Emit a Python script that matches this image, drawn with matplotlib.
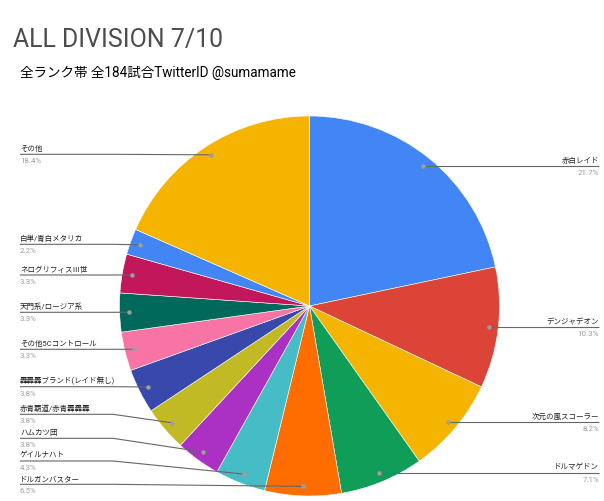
import matplotlib
matplotlib.use("Agg")
import matplotlib.pyplot as plt
import numpy as np

plt.rcParams['font.family'] = ['Roboto', 'Noto Sans CJK JP', 'DejaVu Sans']

title = "ALL DIVISION 7/10"
subtitle = "全ランク帯 全184試合TwitterID @sumamame"

categories = ["赤白レイド", "デンジャデオン", "次元の嵐スコーラー", "ドルマゲドン",
              "ドルガンバスター", "ゲイルナハト", "ハムカツ団", "赤青覇道/赤青轟轟轟",
              "轟轟轟ブランド(レイド無し)", "その他5Cコントロール", "天門系/ロージア系",
              "ネログリフィスⅢ世", "白単/青白メタリカ", "その他"]
shares = [21.7, 10.3, 8.2, 7.1, 6.5, 4.3, 3.8, 3.8, 3.8, 3.3, 3.3, 3.3, 2.2, 18.4]
colors = ["#4285F4", "#DB4437", "#F4B400", "#0F9D58", "#FF6D00", "#46BDC6",
          "#AB30C4", "#C2BA25", "#3949AB", "#F774A5", "#00695C", "#C2185B",
          "#4285F4", "#F4B400"]

W, H = 604, 501
fig = plt.figure(figsize=(W / 100, H / 100), dpi=100)

cx, cy, R = 309.5, 306.0, 190.0
ax = fig.add_axes([(cx - R) / W, (H - cy - R) / H, 2 * R / W, 2 * R / H])
wedges, _ = ax.pie(shares, colors=colors, startangle=90, counterclock=False,
                   radius=1.0, wedgeprops=dict(linewidth=0.4, edgecolor="white"))
ax.set_xlim(-1, 1)
ax.set_ylim(-1, 1)
ax.set_aspect('equal')
ax.axis('off')

ov = fig.add_axes([0, 0, 1, 1], zorder=5)
ov.set_xlim(0, W)
ov.set_ylim(H, 0)
ov.axis('off')
ov.patch.set_alpha(0)

ov.text(13, 47, title, fontsize=17.9, color="#4d4d4d", ha="left", va="baseline")
ov.text(20.5, 77, subtitle, fontsize=9.75, color="#000000", ha="left", va="baseline")

total = sum(shares)
pcts = [f"{100 * s / total:.1f}%" for s in shares]

# layout: label line y for left-side labels; right-side labels sit at the dot height
left_line_y = {13: 154.3, 12: 244.3, 11: 275.0, 10: 312.3, 9: 349.3, 8: 386.7,
               7: 414.3, 6: 438.3, 5: 461.0, 4: 484.3}
line_col = "#666666"
dot_col = "#9e9e9e"
lab_fs = 5.4
pct_fs = 5.7

for i, w in enumerate(wedges):
    mid = np.deg2rad((w.theta1 + w.theta2) / 2)
    dx = cx + 0.95 * R * np.cos(mid)
    dy = cy - 0.95 * R * np.sin(mid)
    if i in left_line_y:
        ly = left_line_y[i]
        ov.plot([20, 113, dx], [ly, ly, dy], color=line_col, lw=0.8,
                solid_capstyle='butt')
        ov.text(20, ly - 3, categories[i], fontsize=lab_fs, color="#222222",
                ha="left", va="baseline")
        ov.text(20, ly + 4, pcts[i], fontsize=pct_fs, color="#9e9e9e",
                ha="left", va="top")
    else:
        ly = dy
        ov.plot([dx, 599], [ly, ly], color=line_col, lw=0.8,
                solid_capstyle='butt')
        ov.text(599, ly - 3, categories[i], fontsize=lab_fs, color="#222222",
                ha="right", va="baseline")
        ov.text(599, ly + 4, pcts[i], fontsize=pct_fs, color="#9e9e9e",
                ha="right", va="top")
    ov.plot([dx], [dy], marker='o', ms=3.2, color=dot_col, mec='none')

fig.savefig("out.png", dpi=100)
